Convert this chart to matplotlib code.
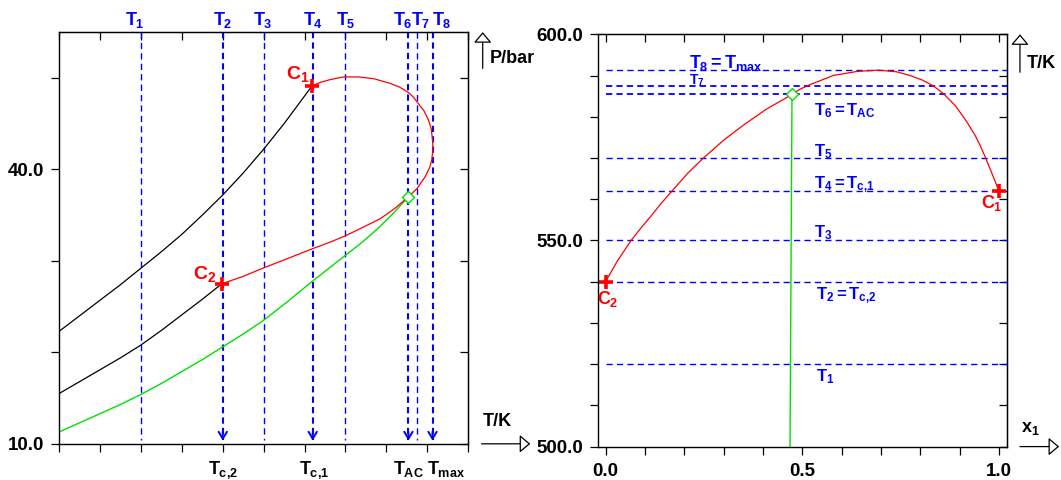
import matplotlib
matplotlib.use("Agg")
import matplotlib.pyplot as plt
from matplotlib.transforms import blended_transform_factory

# isotherm temperatures (K)
T_lines = [520.0, 540.0, 550.0, 562.0, 570.0, 585.4, 587.5, 591.3]
T_top_labels = ['$T_1$', '$T_2$', '$T_3$', '$T_4$', '$T_5$', '$T_6$', '$T_7$', '$T_8$']
T_right_labels = ['$T_1$', '$T_2 = T_{c{,}2}$', '$T_3$', '$T_4 = T_{c{,}1}$', '$T_5$',
                  '$T_6 = T_{AC}$', '$T_7$', '$T_8 = T_{max}$']
T_marked = [1, 3, 5, 7]
T_bottom_labels = ['$T_{c{,}2}$', '$T_{c{,}1}$', '$T_{AC}$', '$T_{max}$']

# left panel: P-T projection
vp_upper_T = [500.0, 505.0, 510.0, 515.0, 520.0, 525.0, 530.0, 535.0, 540.0, 545.0,
              550.0, 555.0, 561.8]
vp_upper_P = [22.3, 24.0, 25.7, 27.4, 29.2, 31.0, 32.9, 35.0, 37.2, 39.6,
              42.2, 45.0, 49.1]
vp_lower_T = [500.0, 505.0, 510.0, 515.0, 520.0, 525.0, 530.0, 535.0, 539.8]
vp_lower_P = [15.5, 16.8, 18.1, 19.4, 20.8, 22.4, 24.1, 25.8, 27.5]
three_phase_T = [500.0, 505.0, 510.0, 515.0, 520.0, 525.0, 530.0, 535.0, 540.0, 545.0,
                 550.0, 556.0, 562.0, 566.0, 570.0, 574.0, 577.6, 581.5, 585.4]
three_phase_P = [11.3, 12.3, 13.3, 14.3, 15.4, 16.6, 17.9, 19.2, 20.6, 22.0,
                 23.5, 25.6, 27.8, 29.2, 30.6, 32.0, 33.4, 35.1, 37.0]
crit_T = [539.8, 545.0, 549.8, 555.0, 561.8, 566.0, 569.8, 574.0, 578.5, 582.0,
          585.4, 587.5, 589.5, 590.6, 591.1, 591.4, 591.3, 591.0, 590.3, 589.2,
          587.8, 586.6, 585.4, 583.2, 580.9, 577.0, 573.2, 569.5, 566.2, 563.8, 561.8]
crit_P = [27.5, 28.3, 29.2, 30.1, 31.3, 32.0, 32.7, 33.6, 34.6, 35.7,
          37.0, 37.9, 39.2, 40.2, 41.0, 42.2, 43.2, 44.4, 45.4, 46.4,
          47.2, 47.9, 48.4, 49.0, 49.4, 49.9, 50.1, 50.1, 49.8, 49.5, 49.1]
C1_TP = (561.8, 49.1)
C2_TP = (539.8, 27.5)
AC_TP = (585.4, 37.0)

# right panel: T-x projection of the critical line
crit_x = [0.0, 0.03, 0.065, 0.09, 0.118, 0.14, 0.169, 0.21, 0.249, 0.3, 0.351, 0.41,
          0.474, 0.495, 0.52, 0.579, 0.64, 0.694, 0.74, 0.774, 0.805, 0.833, 0.859,
          0.89, 0.918, 0.94, 0.952, 0.964, 0.98, 1.0]
crit_Tx = [540.0, 545.0, 550.0, 553.0, 556.2, 558.8, 562.0, 566.4, 570.0, 574.3, 578.0,
           581.9, 585.4, 586.7, 587.8, 590.0, 591.0, 591.3, 590.9, 590.0, 588.9, 587.5,
           585.6, 582.6, 578.8, 575.4, 573.1, 570.5, 566.8, 562.0]
azeo_x = [0.474, 0.469]
azeo_T = [585.4, 500.0]

plt.rcParams['font.family'] = ['Liberation Sans', 'DejaVu Sans']
plt.rcParams['font.weight'] = 'bold'
plt.rcParams['mathtext.fontset'] = 'custom'
plt.rcParams['mathtext.rm'] = 'Liberation Sans:bold'
plt.rcParams['mathtext.it'] = 'Liberation Sans:bold'
plt.rcParams['mathtext.bf'] = 'Liberation Sans:bold'
plt.rcParams['lines.scale_dashes'] = False

BLUE = '#0000ff'
RED = '#ff0000'
GREEN = '#00e000'

fig = plt.figure(figsize=(10.61, 4.8), dpi=100)
ax1 = fig.add_axes([0.0558, 0.0754, 0.3854, 0.8577])
ax2 = fig.add_axes([0.5633, 0.0696, 0.3856, 0.8590])


def style_axes(ax, xticks, yticks, xlabels, ylabels):
    ax.set_xticks(xticks)
    ax.set_yticks(yticks)
    ax.set_xticklabels(xlabels)
    ax.set_yticklabels(ylabels)
    ax.tick_params(direction='out', length=5.5, width=0.9, labelsize=13.5, pad=5)
    ax.tick_params(axis='x', pad=6.5)
    for s in ax.spines.values():
        s.set_linewidth(1.0)
    top = ax.secondary_xaxis('top')
    top.set_xticks(xticks)
    top.set_xticklabels([])
    top.tick_params(direction='in', length=5.5, width=0.9)
    right = ax.secondary_yaxis('right')
    right.set_yticks(yticks)
    right.set_yticklabels([])
    right.tick_params(direction='in', length=5.5, width=0.9)


def axis_arrow(ax, start, end):
    ax.annotate('', xy=end, xytext=start, xycoords='axes fraction',
                arrowprops=dict(arrowstyle='-|>,head_length=0.65,head_width=0.55',
                                fc='white', ec='black', lw=0.9,
                                shrinkA=0, shrinkB=0), annotation_clip=False)


# ---------- left panel ----------
ax1.set_xlim(500, 600)
ax1.set_ylim(10, 55)
style_axes(ax1, list(range(500, 601, 10)), [10, 20, 30, 40, 50],
           [''] * 11, ['10.0', '', '', '40.0', ''])

top_dx = [-4.3, 0, -0.7, 0, 0, -4.3, 2.4, 6.6]
tr_top = blended_transform_factory(ax1.transData, ax1.transAxes)
for i, T in enumerate(T_lines):
    thick = i in T_marked
    ax1.plot([T, T], [55, 10.4], color=BLUE, lw=1.5 if thick else 1.0,
             dashes=(4.5, 3.0), zorder=1)
    ax1.annotate(T_top_labels[i], xy=(T, 1.0), xycoords=tr_top,
                 xytext=(top_dx[i], 5), textcoords='offset points',
                 ha='center', va='baseline', color=BLUE, fontsize=13,
                 annotation_clip=False)
    if thick:
        ax1.annotate('', xy=(T, 10.35), xytext=(T, 11.3),
                     arrowprops=dict(arrowstyle='->,head_length=0.5,head_width=0.3',
                                     color=BLUE, lw=1.4, shrinkA=0, shrinkB=0))

bottom_dx = [0, 1, 0, 10]
for j, i in enumerate(T_marked):
    ax1.annotate(T_bottom_labels[j], xy=(T_lines[i], 0.0), xycoords=tr_top,
                 xytext=(bottom_dx[j], -21.5), textcoords='offset points',
                 ha='center', va='baseline', color='black', fontsize=13,
                 annotation_clip=False)

ax1.plot(vp_upper_T, vp_upper_P, color='black', lw=0.9)
ax1.plot(vp_lower_T, vp_lower_P, color='black', lw=0.9)
ax1.plot(three_phase_T, three_phase_P, color=GREEN, lw=1.0)
ax1.plot(crit_T, crit_P, color=RED, lw=0.9)
ax1.plot(*AC_TP, marker='D', ms=6, mfc='white', mec=GREEN, mew=1.0)
ax1.plot(*C1_TP, marker='+', ms=10, mec=RED, mew=2.6)
ax1.plot(*C2_TP, marker='+', ms=10, mec=RED, mew=2.6)
ax1.annotate('$C_1$', xy=C1_TP, xytext=(-2, 8.5), textcoords='offset points',
             ha='right', va='center', color=RED, fontsize=14)
ax1.annotate('$C_2$', xy=C2_TP, xytext=(-4.4, 7.3), textcoords='offset points',
             ha='right', va='center', color=RED, fontsize=14)

axis_arrow(ax1, (1.0357, 0.912), (1.0357, 1.0))
ax1.text(1.0533, 0.935, 'P/bar', transform=ax1.transAxes, ha='left', va='center',
         fontsize=13)
axis_arrow(ax1, (1.033, 0.0), (1.152, 0.0))
ax1.text(1.036, 0.054, 'T/K', transform=ax1.transAxes, ha='left', va='center',
         fontsize=13)

# ---------- right panel ----------
ax2.set_xlim(-0.02, 1.02)
ax2.set_ylim(500, 600)
xt = [round(0.1 * k, 1) for k in range(11)]
style_axes(ax2, xt, list(range(500, 601, 10)),
           ['0.0', '', '', '', '', '0.5', '', '', '', '', '1.0'],
           ['500.0', '', '', '', '', '550.0', '', '', '', '', '600.0'])

label_x = [0.535, 0.535, 0.53, 0.53, 0.53, 0.53, 0.213, 0.213]
label_T = [515.8, 535.7, 550.8, 562.7, 570.5, 580.4, 587.8, 591.9]
label_size = [12, 12, 12, 12, 12, 12, 10, 13]
for i, T in enumerate(T_lines):
    ax2.plot([0.0, 1.02], [T, T], color=BLUE, lw=1.3 if i in (5, 6) else 1.0,
             dashes=(4.5, 3.0), zorder=1)
    ax2.text(label_x[i], label_T[i], T_right_labels[i], color=BLUE,
             fontsize=label_size[i], ha='left', va='baseline')

ax2.plot(crit_x, crit_Tx, color=RED, lw=0.9)
ax2.plot(azeo_x, azeo_T, color=GREEN, lw=1.0)
ax2.plot(azeo_x[0], azeo_T[0], marker='D', ms=6, mfc='white', mec=GREEN, mew=1.0)
ax2.plot(crit_x[-1], crit_Tx[-1], marker='+', ms=10, mec=RED, mew=2.6)
ax2.plot(crit_x[0], crit_Tx[0], marker='+', ms=10, mec=RED, mew=2.6)
ax2.annotate('$C_1$', xy=(crit_x[-1], crit_Tx[-1]), xytext=(-5, -9),
             textcoords='offset points', ha='center', va='center', color=RED,
             fontsize=13)
ax2.annotate('$C_2$', xy=(crit_x[0], crit_Tx[0]), xytext=(1.5, -12.5),
             textcoords='offset points', ha='center', va='center', color=RED,
             fontsize=13)

axis_arrow(ax2, (1.0322, 0.908), (1.0322, 1.0))
ax2.text(1.049, 0.928, 'T/K', transform=ax2.transAxes, ha='left', va='center',
         fontsize=13)
axis_arrow(ax2, (1.0322, 0.0), (1.128, 0.0))
ax2.text(1.0337, 0.045, '$x_1$', transform=ax2.transAxes, ha='left', va='center',
         fontsize=13)

fig.savefig('out.png', dpi=100)
